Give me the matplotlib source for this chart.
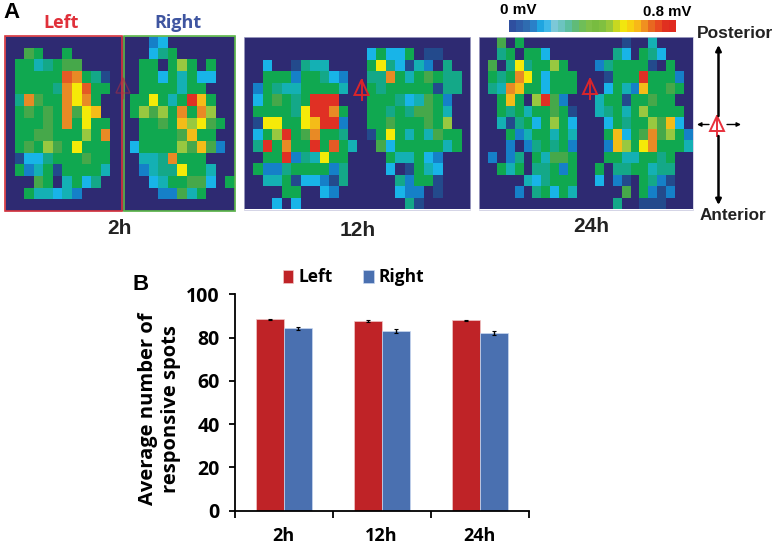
import numpy as np
import matplotlib
matplotlib.use("Agg")
from matplotlib import pyplot as plt
from matplotlib.colors import ListedColormap
from matplotlib.patches import Rectangle, Polygon

# spot maps, one letter per cell (. = no response)
grid_2h = [
    "...............Bc.......",
    "..Gg..g........cqg......",
    ".ggtqgGG......gg.glg.g..",
    ".gggggROgqb...ggcgtgcc..",
    ".ggggqOyRgg...ggggtgg...",
    ".qOGggOyOg...ggygtgrog..",
    ".gGgGgOGyo...glGlgOgOl..",
    ".gggGgOgygg...ggGgolyGg.",
    ".ggGGggglgO...ggggGogg..",
    ".gGglGgyggg..cgggglGoGB.",
    ".bccqgggGgg...ttqOggg...",
    ".gBtgbggggt...Btqqyggt..",
    "...Gg.tgcq.....ctggGGc.g",
    "..gttctB........BBGtg...",
    "........................",
]
grid_12h = [
    "........................",
    ".............cgccg.bb...",
    "..c..bqtt....gyqcbtB.q..",
    "..gggBggqcB..qqOgtgGgqq.",
    ".Bgqttggggt..gqgggggbqq.",
    ".cgGgqgrrr...gggqctGgB..",
    ".ggggqyrrOg..ggqgqGGgt..",
    ".byyggyorrB..ggGgggGgl..",
    ".cglrgGOggq..bgygtgtGgg.",
    ".qrgOggrgRgt..Gcgggggtg.",
    "..ggrBqtygg....gttgcB...",
    ".gBBqggggBq....c.bgtc...",
    "..ttgbccBbq.....qBggb...",
    "....gg..cB......cBB.b...",
    "...c.c...........qb.....",
]
grid_24h = [
    "..G.g...........b..t....",
    "..qg.ggc.......qc.gqc...",
    ".G.qyqgglg...Bqggggb.g..",
    ".gqgOygcggg...bgggrgggB.",
    ".qtOoggcggg...cgtBoggGg.",
    "..gog.lrGB...tggbggGgg..",
    "..gqgtggGgb..tqgtglgggg.",
    "..tbqgcglgc...cgqgglGoc.",
    "...gBtggtgt...gocgGOGlgB",
    "...B.BqgqgB...BolgyOgggt",
    ".B.Bq.gtGGg...ggttggqg..",
    "..gtg.qqgBg..g.qqggtqq..",
    ".....tcqggg..c.Bb.gqBb..",
    "....B.qgcgt.....G.gBbB..",
    "...............q..bbb...",
]
levels = ".bBctqgGloOyRr"
level_colors = ["#2e2a72", "#234a8c", "#1580c8", "#18b4e8", "#14b0b4", "#14a888",
                "#10a850", "#46a84a", "#98c840", "#f4bc18", "#e88a25", "#f5ea08",
                "#e45a25", "#e03024"]
scale_colors = ["#2f4f9f", "#2f5da8", "#2f6cb0", "#2a80c8", "#1fa5e0", "#3fb8e8",
                "#7cc8d8", "#6cc4c0", "#5cbfa0", "#60bb78", "#6fbe58", "#7fc048",
                "#78bc40", "#80c040", "#98c83a", "#c8d820", "#f2e60e", "#f8d010",
                "#f8b818", "#f09020", "#e86820", "#e84a20", "#e03020", "#e02a20"]

times = ["2h", "12h", "24h"]
left_spots = [88.5, 87.8, 88.0]
right_spots = [84.2, 83.0, 82.0]
left_err = [0.3, 0.4, 0.2]
right_err = [0.8, 0.8, 1.0]

W, H = 777, 548
plt.rcParams["font.family"] = ["Open Sans", "DejaVu Sans"]
fig = plt.figure(figsize=(W / 100, H / 100), dpi=100)


def px_axes(x0, y0, x1, y1):
    return fig.add_axes([x0 / W, 1 - y1 / H, (x1 - x0) / W, (y1 - y0) / H])


def draw_grid(grid, box):
    ax = px_axes(*box)
    cells = np.array([[levels.index(c) for c in row] for row in grid])
    ax.imshow(cells, cmap=ListedColormap(level_colors), vmin=0, vmax=len(levels) - 1,
              aspect="auto", interpolation="nearest")
    ax.set_xticks([])
    ax.set_yticks([])
    for s in ax.spines.values():
        s.set_color("#c4c4dc")
        s.set_linewidth(0.5)
    return ax


draw_grid(grid_2h, (5, 36, 234.5, 211))
draw_grid(grid_12h, (243.5, 37.5, 470, 209.5))
draw_grid(grid_24h, (478.5, 37.5, 692.5, 209.5))

# colour scale
cax = px_axes(508.5, 20, 675, 32)
cax.imshow(np.arange(len(scale_colors)).reshape(1, -1), cmap=ListedColormap(scale_colors),
           aspect="auto", interpolation="nearest")
cax.axis("off")

# bar chart
ax = px_axes(234.5, 294.3, 529, 510.7)
x = np.arange(len(times))
w = 0.285
ax.bar(x - w / 2, left_spots, w, yerr=left_err, color="#bf2327", edgecolor="#f0c8c8", linewidth=0.5,
       label="Left", error_kw=dict(ecolor="black", elinewidth=1, capsize=1.5, capthick=0.8))
ax.bar(x + w / 2, right_spots, w, yerr=right_err, color="#4a70b0", edgecolor="#c8d8f0", linewidth=0.5,
       label="Right", error_kw=dict(ecolor="black", elinewidth=1, capsize=1.5, capthick=0.8))
ax.set_xlim(-0.5, 2.5)
ax.set_ylim(0, 100)
ax.set_yticks(range(0, 101, 20))
ax.set_xticks([-0.5, 0.5, 1.5, 2.5])
ax.set_xticklabels([])
ax.set_xticks(x, times, minor=True, fontsize=13, fontweight="bold")
ax.tick_params(axis="x", which="minor", length=0, pad=12)
ax.tick_params(axis="x", which="major", length=5, width=1.3)
ax.tick_params(axis="y", length=4, width=1.3, labelsize=14, pad=6.5)
for t in ax.get_yticklabels():
    t.set_fontweight("bold")
for s in ["top", "right"]:
    ax.spines[s].set_visible(False)
for s in ["left", "bottom"]:
    ax.spines[s].set_linewidth(1.3)
ax.set_ylabel("Average number of\nresponsive spots", fontsize=14.5, fontweight="bold",
              linespacing=1.15, labelpad=4, y=0.47)
ax.legend(ncol=2, frameon=False, loc="lower left", bbox_to_anchor=(0.138, 1.0),
          prop=dict(weight="bold", size=12.5), handlelength=0.6, handleheight=0.8,
          handletextpad=0.3, columnspacing=1.75, borderpad=0, borderaxespad=0.45)

# overlay in pixel coordinates for labels and markers
ov = fig.add_axes([0, 0, 1, 1], facecolor="none")
ov.set_xlim(0, W)
ov.set_ylim(H, 0)
ov.axis("off")
ov.add_patch(Rectangle((5, 36), 117, 175, fill=False, ec="#d8343c", lw=1.2))
ov.add_patch(Rectangle((124, 36), 110.5, 175, fill=False, ec="#5cb848", lw=1.2))


def triangle(cx, cy, color="#d9252b", alpha=1.0, lw=1.4):
    ov.add_patch(Polygon([[cx - 7, cy + 6], [cx, cy - 9], [cx + 7, cy + 6]], fill=False,
                         ec=color, lw=lw, alpha=alpha))
    ov.plot([cx, cx], [cy - 9, cy + 11], color=color, lw=lw, alpha=alpha)


triangle(123, 87, color="#b03040", alpha=0.55, lw=1.0)
triangle(361.5, 89)
triangle(590, 88)
triangle(717, 125, color="#e8303c")

arrow = dict(arrowstyle="-|>", color="black", lw=1.8, mutation_scale=8, shrinkA=0, shrinkB=0)
small = dict(arrowstyle="-|>", color="black", lw=1, mutation_scale=6, shrinkA=0, shrinkB=0)
ov.annotate("", xy=(718.5, 45), xytext=(718.5, 116), arrowprops=arrow)
ov.annotate("", xy=(718.5, 205), xytext=(718.5, 136), arrowprops=arrow)
ov.annotate("", xy=(697, 124.5), xytext=(709, 124.5), arrowprops=small)
ov.annotate("", xy=(741, 124.5), xytext=(727, 124.5), arrowprops=small)

arial = ["Liberation Sans", "DejaVu Sans"]
ov.text(12, 12, "A", family=arial, fontsize=16, fontweight="bold", ha="center", va="center")
ov.text(141, 285, "B", family=arial, fontsize=16, fontweight="bold", ha="center", va="center")
ov.text(61, 23.5, "Left", color="#e0303a", fontsize=13, fontweight="bold", ha="center", va="center")
ov.text(178, 23.5, "Right", color="#3f55a0", fontsize=13, fontweight="bold", ha="center", va="center")
for cx, cy, s in [(119, 229, "2h"), (358, 230, "12h"), (591, 226, "24h")]:
    ov.text(cx, cy, s, family=arial, fontsize=15, fontweight="bold", ha="center", va="center", color="#222222")
ov.text(518, 10, "0 mV", family=arial, fontsize=11, fontweight="bold", ha="center", va="center")
ov.text(667, 12, "0.8 mV", family=arial, fontsize=10.8, fontweight="bold", ha="center", va="center")
ov.text(735, 33, "Posterior", family=arial, fontsize=12.5, fontweight="bold", ha="center", va="center", color="#222222")
ov.text(733, 215, "Anterior", family=arial, fontsize=12.3, fontweight="bold", ha="center", va="center", color="#222222")

fig.savefig("out.png", dpi=100)
